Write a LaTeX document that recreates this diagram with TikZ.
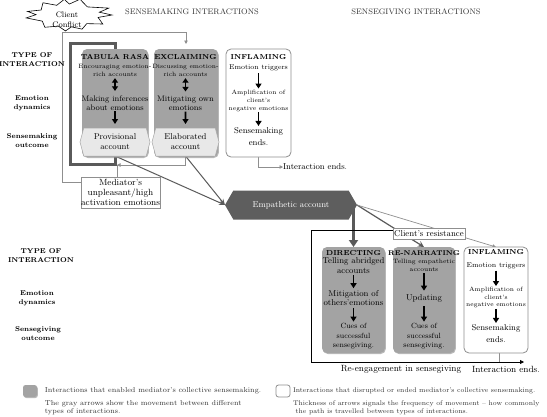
\documentclass[tikz,border=0pt]{standalone}
\usetikzlibrary{shapes.symbols,arrows.meta,shadows,backgrounds}
\definecolor{boxgray}{HTML}{A3A3A3}
\definecolor{hexfill}{HTML}{E8E8E8}
\definecolor{empfill}{HTML}{5E5E5E}
\definecolor{linegray}{HTML}{8F8F8F}
\definecolor{darkline}{HTML}{5A5A5A}
\definecolor{txtgray}{HTML}{333333}
\begin{document}
\begin{tikzpicture}[x=1pt,y=-1pt,
  every node/.style={inner sep=0pt, outer sep=0pt, align=center},
  hdr/.style={font=\fontsize{8}{9}\selectfont, text=txtgray},
  rowl/.style={font=\bfseries\fontsize{7}{9}\selectfont},
  ttl/.style={font=\bfseries\fontsize{7.2}{8.5}\selectfont},
  tsm/.style={font=\fontsize{6.2}{8}\selectfont},
  tsmb/.style={font=\fontsize{6.2}{7.6}\selectfont},
  tmd/.style={font=\fontsize{8}{8.5}\selectfont},
  tbg/.style={font=\fontsize{8.5}{9.5}\selectfont},
  ttr/.style={font=\fontsize{7}{8}\selectfont},
  tend/.style={font=\fontsize{8.5}{12}\selectfont},
  tcue/.style={font=\fontsize{7.5}{9.5}\selectfont},
  leg/.style={font=\fontsize{7.2}{8}\selectfont, text=txtgray, align=left, anchor=west},
  legr/.style={font=\fontsize{6.8}{8}\selectfont, text=txtgray, align=left, anchor=west},
  gbox/.style={fill=boxgray, rounded corners=5pt, drop shadow={shadow xshift=0.8pt, shadow yshift=-1pt, fill=black!45, opacity=0.6}},
  wbox/.style={draw=linegray, line width=0.8pt, fill=white, rounded corners=5pt},
  hexa/.style={signal, signal to=west and east, signal pointer angle=150, fill=hexfill, draw=black!35, line width=0.5pt, font=\fontsize{8.5}{10}\selectfont},
  blk/.style={line width=1.6pt, -{Triangle[width=6pt,length=5pt]}},
  dbl/.style={line width=1.6pt, {Triangle[width=6pt,length=4.5pt]}-{Triangle[width=6pt,length=4.5pt]}},
  glink/.style={draw=linegray, line width=0.7pt, -{Triangle[width=3.5pt,length=3.5pt]}},
  dlink/.style={draw=darkline, line width=1pt, -{Stealth[width=5pt,length=6pt]}},
  boxl/.style={draw=linegray, fill=white, line width=0.6pt},
]
\begin{pgfonlayer}{background}
\fill[white] (0,0) rectangle (547,416);
\end{pgfonlayer}
\useasboundingbox (0,0) rectangle (547,416);

% headers and row labels
\node[hdr] (h1) at (192,12) {SENSEMAKING INTERACTIONS};
\node[hdr] (h2) at (416,12) {SENSEGIVING INTERACTIONS};
\node[rowl] (l1) at (32,60) {TYPE OF\\INTERACTION};
\node[rowl] (l2) at (32,103.5) {Emotion\\dynamics};
\node[rowl] (l3) at (32,140.5) {Sensemaking\\outcome};
\node[rowl] (l4) at (41,255.5) {TYPE OF\\INTERACTION};
\node[rowl] (l5) at (37,298.5) {Emotion\\dynamics};
\node[rowl] (l6) at (38,334) {Sensegiving\\outcome};

% client conflict (starburst)
\draw[fill=white, line width=0.6pt, line join=miter]
  (68,15) +(0:44 and 8) -- +(14:31 and 10) -- +(32:41 and 17) -- +(46:27 and 12)
  -- +(62:30 and 16) -- +(80:20 and 12) -- +(96:24 and 16) -- +(112:26 and 12)
  -- +(130:36 and 16) -- +(146:31 and 11) -- +(166:43 and 12) -- +(182:32 and 10)
  -- +(196:42 and 13) -- +(210:31 and 10) -- +(226:36 and 17) -- +(242:24 and 11)
  -- +(258:18 and 16) -- +(274:20 and 11) -- +(292:32 and 17) -- +(306:33 and 10)
  -- +(328:48 and 13) -- +(342:33 and 9) -- cycle;
\node[font=\fontsize{8}{10}\selectfont] (ccT) at (67,20) {Client\\Conflict};

% top boxes
\node[gbox, minimum width=66pt, minimum height=108pt] (tab) at (115,103) {};
\node[gbox, minimum width=64pt, minimum height=108pt] (exc) at (186,103) {};
\node[wbox, minimum width=65pt, minimum height=108pt] (inf) at (258.5,103) {};
\node[hexa, minimum width=70pt, minimum height=28pt] (prov) at (115,142) {Provisional\\account};
\node[hexa, minimum width=67pt, minimum height=28pt] (elab) at (185.5,142) {Elaborated\\account};

\node[ttl] (tabT) at (115,57) {TABULA RASA};
\node[tsm] (tab1) at (115,70) {Encouraging emotion-\\rich accounts};
\node[tmd] (tab2) at (115,103) {Making inferences\\about emotions};
\node[ttl] (excT) at (185.5,57) {EXCLAIMING};
\node[tsm] (exc1) at (185.5,70) {Discussing emotion-\\rich accounts};
\node[tmd] (exc2) at (185.5,103.5) {Mitigating own\\emotions};
\node[ttl] (infT) at (258.5,57) {INFLAMING};
\node[ttr] (inf1) at (258.5,68) {Emotion triggers};
\node[tsmb] (inf2t) at (258.5,101) {Amplification of\\client's\\negative emotions};
\node[tend] (inf3) at (258.5,137) {Sensemaking\\ends.};

\draw[dbl, shorten <=2pt, shorten >=5pt] (tab1) -- (tab2);
\draw[blk, shorten <=1pt, shorten >=4pt] (tab2) -- (prov);
\draw[dbl, shorten <=2pt, shorten >=5pt] (exc1) -- (exc2);
\draw[blk, shorten <=1pt, shorten >=4pt] (exc2) -- (elab);
\draw[blk, shorten <=2pt, shorten >=2pt] (inf1) -- (inf2t);
\draw[blk, shorten <=1pt, shorten >=2pt] (inf2t) -- (inf3);

% mediator, empathetic
\node[boxl, minimum width=79pt, minimum height=31pt, font=\fontsize{9}{10}\selectfont] (med) at (120.5,192.5) {Mediator's\\unpleasant/high\\activation emotions};
\node[signal, signal to=west and east, signal pointer angle=120, fill=empfill, minimum width=132pt, minimum height=29pt, text=white, font=\fontsize{8.5}{10}\selectfont] (emp) at (291,205) {Empathetic account};
\node[font=\fontsize{8.5}{10}\selectfont, anchor=west] (ie1) at (283,167) {Interaction ends.};

% bottom boxes
\node[gbox, minimum width=63pt, minimum height=106pt] (dir) at (353.5,300) {};
\node[gbox, minimum width=62pt, minimum height=106pt] (ren) at (424,300) {};
\node[wbox, minimum width=64pt, minimum height=106pt] (inf2) at (496,300) {};

\node[ttl] (dirT) at (353.5,253) {DIRECTING};
\node[tbg] (dir1) at (353.5,265.5) {Telling abridged\\accounts};
\node[tbg] (dir2) at (353.5,298) {Mitigation of\\others'emotions};
\node[tcue] (dir3) at (353.5,336.5) {Cues of\\successful\\sensegiving.};
\node[ttl, font=\bfseries\fontsize{6.9}{8.5}\selectfont] (renT) at (424,253) {RE-NARRATING};
\node[tsm] (ren1) at (424,265) {Telling empathetic\\accounts};
\node[tbg] (ren2) at (424,298.5) {Updating};
\node[tcue] (ren3) at (424,336.5) {Cues of\\successful\\sensegiving.};
\node[ttl] (inf2T) at (496,252.5) {INFLAMING};
\node[ttr] (inf21) at (496,265.5) {Emotion triggers};
\node[tsmb] (inf22) at (496,297.5) {Amplification of\\client's\\negative emotions};
\node[tend] (inf23) at (496,334) {Sensemaking\\ends.};

\draw[blk, shorten <=2pt, shorten >=2pt] (dir1) -- (dir2);
\draw[blk, shorten <=2pt, shorten >=2pt] (dir2) -- (dir3);
\draw[blk, shorten <=2pt, shorten >=4pt] (ren1) -- (ren2);
\draw[blk, shorten <=4pt, shorten >=2pt] (ren2) -- (ren3);
\draw[blk, shorten <=2pt, shorten >=1pt] (inf21) -- (inf22);
\draw[blk, shorten <=1pt, shorten >=2pt] (inf22) -- (inf23);

\node[boxl, minimum width=72pt, minimum height=11pt, font=\fontsize{8.6}{10}\selectfont] (res) at (429,233.5) {Client's resistance};

\node[font=\fontsize{9}{10}\selectfont] (reng) at (401,369) {Re-engagement in sensegiving};
\node[font=\fontsize{9}{10}\selectfont] (ie2) at (506,369) {Interaction ends.};

% legend
\node[gbox, minimum width=14pt, minimum height=12pt, rounded corners=2.5pt] (lg1) at (30,391) {};
\node[wbox, minimum width=14pt, minimum height=12pt, rounded corners=2.5pt] (lg2) at (283,391) {};
\node[leg] (lt1) at (45,391) {Interactions that enabled mediator's collective sensemaking.};
\node[leg] (lt2) at (45,407.5) {The gray arrows show the movement between different\\types of interactions.};
\node[legr] (lt3) at (293,391) {Interactions that disrupted or ended mediator's collective sensemaking.};
\node[legr] (lt4) at (293,407.5) {Thickness of arrows signals the frequency of movement -- how commonly\\\ the path is travelled between types of interactions.};

% connectors
\begin{pgfonlayer}{background}
\draw[glink] ([yshift=10.5pt]med.west) -| (62,32) -| ([yshift=5pt]exc.north);
\draw[draw=darkline, line width=3pt] (prov.south) -- ++(0,8) -| (70,43) -| (tab.north);
\draw[glink] (elab.south) |- ([xshift=-3.5pt,yshift=12pt]med.north);
\draw[draw=linegray, line width=0.7pt] ([xshift=-3.5pt]med.north) -- ++(0,-12);
\draw[dlink] (prov.south) -- (emp.west);
\draw[dlink] (elab.south) -- (emp.west);
\draw[glink] (inf.south) |- (ie1.west);
\draw[draw=darkline, line width=3pt, -{Triangle[width=9pt,length=7pt]}] (emp.east -| dir.north) -- (dir.north);
\draw[draw=darkline, line width=1.2pt, -{Stealth[width=6pt,length=6pt]}] (emp.east) -- (ren.north);
\draw[glink] (emp.east) -- (inf2.north);
\draw[line width=0.8pt, -{Triangle[width=4pt,length=4pt]}] ([yshift=3pt]res.west) -| (311,362) -- (524,362);
\draw[draw=linegray, line width=0.7pt] ([xshift=3pt]inf2.south) -- ++(0,9);
\end{pgfonlayer}
\end{tikzpicture}
\end{document}
